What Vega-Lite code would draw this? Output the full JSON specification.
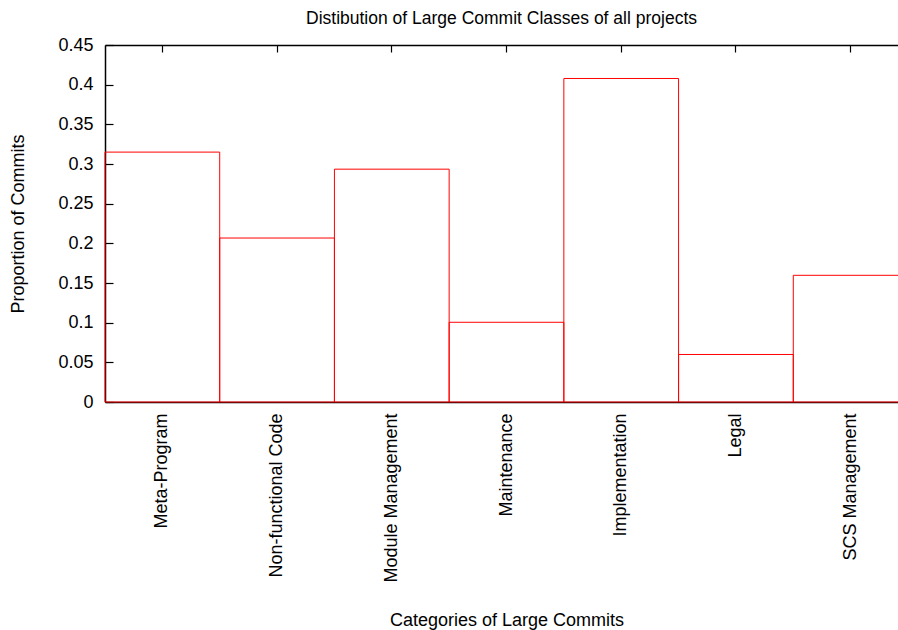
{
  "$schema": "https://vega.github.io/schema/vega-lite/v6.json",
  "width": 793,
  "height": 357,
  "autosize": {"type": "none"},
  "padding": {"left": 105, "top": 45, "right": 0, "bottom": 228},
  "background": "white",
  "config": {"view": {"stroke": null}, "font": "Liberation Sans"},
  "title": {
    "text": "Distibution of Large Commit Classes of all projects",
    "fontSize": 17.5,
    "fontWeight": "normal",
    "font": "Liberation Sans",
    "color": "black",
    "offset": 9,
    "anchor": "middle"
  },
  "data": {
    "values": [
      {"category": "Meta-Program", "value": 0.315},
      {"category": "Non-functional Code", "value": 0.2067},
      {"category": "Module Management", "value": 0.2935},
      {"category": "Maintenance", "value": 0.1005},
      {"category": "Implementation", "value": 0.4078},
      {"category": "Legal", "value": 0.0599},
      {"category": "SCS Management", "value": 0.1597}
    ]
  },
  "layer": [
    {
      "mark": {"type": "bar", "fill": "transparent", "stroke": "#ff0000", "strokeWidth": 1},
      "encoding": {
        "x": {
          "field": "category",
          "type": "nominal",
          "sort": null,
          "scale": {"range": [0, 803], "paddingInner": 0, "paddingOuter": 0},
          "axis": {
            "orient": "bottom",
            "ticks": false,
            "labelAngle": -90,
            "labelPadding": 11,
            "labelFontSize": 18,
            "labelColor": "black",
            "labelFont": "Liberation Sans",
            "labelLimit": 0,
            "labelOverlap": false,
            "domainColor": "black",
            "domainWidth": 1.5,
            "title": "Categories of Large Commits",
            "titleFontSize": 18,
            "titleFontWeight": "normal",
            "titleFont": "Liberation Sans",
            "titleColor": "black",
            "titleY": 218,
            "titleBaseline": "middle"
          }
        },
        "y": {
          "field": "value",
          "type": "quantitative",
          "scale": {"domain": [0, 0.45], "nice": false},
          "axis": {
            "orient": "left",
            "values": [0, 0.05, 0.1, 0.15, 0.2, 0.25, 0.3, 0.35, 0.4, 0.45],
            "format": ".2~f",
            "grid": false,
            "tickSize": -8,
            "tickWidth": 1.2,
            "tickColor": "black",
            "labelPadding": 20,
            "labelFontSize": 18,
            "labelColor": "black",
            "labelFont": "Liberation Sans",
            "labelOverlap": false,
            "labelFlush": false,
            "domainColor": "black",
            "domainWidth": 1.5,
            "title": "Proportion of Commits",
            "titleFontSize": 18,
            "titleFontWeight": "normal",
            "titleFont": "Liberation Sans",
            "titleColor": "black",
            "titleX": -87,
            "titleY": 178.5,
            "titleBaseline": "middle"
          }
        }
      }
    },
    {
      "mark": {"type": "bar", "opacity": 0},
      "encoding": {
        "x": {
          "field": "category",
          "type": "nominal",
          "sort": null,
          "axis": {
            "orient": "top",
            "labels": false,
            "ticks": true,
            "tickSize": -7,
            "tickWidth": 1.2,
            "tickColor": "black",
            "domainColor": "black",
            "domainWidth": 1.5,
            "title": null
          }
        }
      }
    }
  ]
}
